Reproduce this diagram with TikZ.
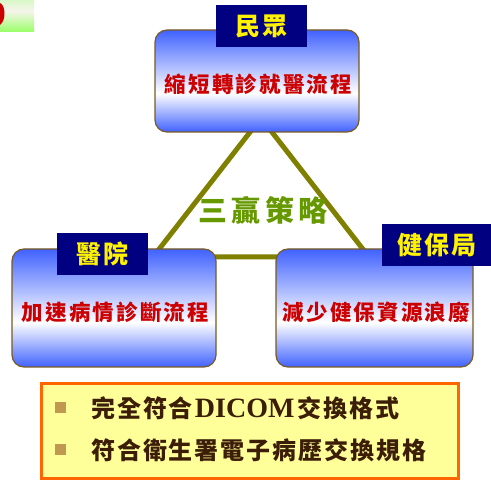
\documentclass[tikz,border=0pt]{standalone}
\usepackage{fontspec}
\setmainfont{Liberation Serif}
\newfontfamily\cjk{Noto Sans CJK TC}
\definecolor{bblue}{RGB}{64,98,255}
\definecolor{bordbrown}{RGB}{122,90,32}
\definecolor{navyb}{RGB}{0,0,128}
\definecolor{ttred}{RGB}{204,0,0}
\definecolor{olivel}{RGB}{128,128,0}
\definecolor{stratgreen}{RGB}{102,153,0}
\definecolor{paleyel}{RGB}{255,255,153}
\definecolor{orangeb}{RGB}{255,102,0}
\definecolor{bultan}{RGB}{192,152,80}
\definecolor{darkbrown}{RGB}{60,30,8}
\definecolor{gtop}{RGB}{216,248,200}
\definecolor{gmid}{RGB}{246,244,236}
\definecolor{gbot}{RGB}{153,255,102}
\pgfdeclareverticalshading{boxshade}{100bp}{color(0bp)=(bblue); color(25bp)=(bblue); color(44bp)=(white); color(75bp)=(bblue); color(100bp)=(bblue)}
\pgfdeclareverticalshading{greenshade}{100bp}{color(0bp)=(gbot); color(25bp)=(gbot); color(58bp)=(gmid); color(75bp)=(gtop); color(100bp)=(gtop)}
\tikzset{
  gbox/.style={draw=bordbrown, line width=1.2pt, rounded corners=12pt, shading=boxshade, inner sep=0pt},
  labbox/.style={fill=navyb, inner sep=0pt, minimum height=42pt, text=yellow, font=\cjk\bfseries\fontsize{25}{28}\selectfont\addfontfeatures{LetterSpace=8}},
  redtxt/.style={text=ttred, inner sep=0pt, font=\cjk\bfseries\fontsize{21.5}{24}\selectfont\addfontfeatures{LetterSpace=10}},
  tri/.style={draw=olivel, line width=5pt, line join=miter},
  bultxt/.style={text=darkbrown, inner sep=0pt, anchor=west, font=\cjk\bfseries\fontsize{24}{28}\selectfont\addfontfeatures{LetterSpace=8}},
  bulsq/.style={fill=bultan, minimum size=11pt, inner sep=0pt}
}
\begin{document}
\begin{tikzpicture}[x=1pt,y=-1pt]
\useasboundingbox (0,0) rectangle (491,481);
% fragment top-left
\shade[shading=greenshade] (0,0) rectangle (34,32);
\fill[ttred] (0,3) .. controls (3,4) and (4.5,9) .. (4.5,14) .. controls (4.5,19) and (2.5,23) .. (0,25) -- cycle;
% triangle
\coordinate (ta) at (261,118);
\coordinate (tl) at (153,257);
\coordinate (tr) at (369,257);
\draw[tri] (ta) -- (tl) -- (tr) -- cycle;
\node[text=stratgreen, inner sep=0pt, font=\cjk\bfseries\fontsize{29}{32}\selectfont\addfontfeatures{LetterSpace=14}] (strat) at (263,210) {三贏策略};
% boxes
\node[gbox, minimum width=204pt, minimum height=102pt] (top) at (257,81) {};
\node[gbox, minimum width=204pt, minimum height=118pt] (bl) at (114,308) {};
\node[gbox, minimum width=197pt, minimum height=118pt] (br) at (374.5,308) {};
\node[redtxt] (toptxt) at (258.5,84) {縮短轉診就醫流程};
\node[redtxt] (bltxt) at (115.5,312) {加速病情診斷流程};
\node[redtxt] (brtxt) at (376.5,312) {減少健保資源浪廢};
\node[labbox, minimum width=91pt] (lab1) at (261.5,26) {民眾};
\node[labbox, minimum width=91pt] (lab2) at (102.5,254) {醫院};
\node[labbox, minimum width=109pt] (lab3) at (436.5,245) {健保局};
% bottom box
\node[draw=orangeb, fill=paleyel, line width=3pt, minimum width=417pt, minimum height=95pt, inner sep=0pt] (req) at (250,431) {};
\node[bulsq] (b1) at (60.5,407.5) {};
\node[bulsq] (b2) at (60.5,449.5) {};
\node[bultxt] (t1) at (91,408) {完全符合{\normalfont\bfseries\fontsize{28}{30}\selectfont\hspace{2pt}DICOM\hspace{3pt}}交換格式};
\node[bultxt] (t2) at (91,450) {符合衛生署電子病歷交換規格};
\end{tikzpicture}
\end{document}
